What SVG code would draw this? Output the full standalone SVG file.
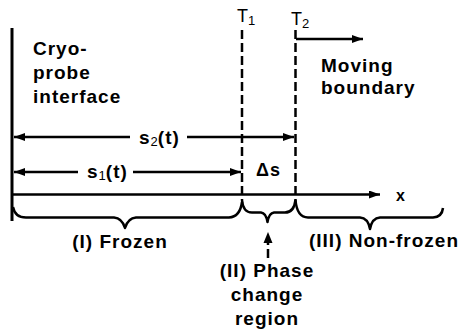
<svg xmlns="http://www.w3.org/2000/svg" width="460" height="335" viewBox="0 0 460 335">
<style>
.t{font-family:"Liberation Sans",Arial,sans-serif;font-weight:bold;font-size:19px;letter-spacing:1px;fill:#000}
.r{font-family:"Liberation Sans",Arial,sans-serif;font-size:18px;fill:#000}
.sub{font-family:"Liberation Sans",Arial,sans-serif;font-weight:normal;font-size:13px;letter-spacing:0}
.ln{stroke:#000;stroke-width:2.5;fill:none}
.dash{stroke:#000;stroke-width:2.5;fill:none;stroke-dasharray:9 4}
.br{stroke:#000;stroke-width:2.5;fill:none;stroke-linejoin:round}
</style>
<defs>
<marker id="ah" markerUnits="userSpaceOnUse" markerWidth="12" markerHeight="8" refX="11" refY="4" orient="auto-start-reverse">
<path d="M0,0 L11,4 L0,8 z" fill="#000"/>
</marker>
</defs>
<rect width="460" height="335" fill="#fff"/>
<g id="interface">
<line x1="12" y1="28" x2="12" y2="221" stroke="#000" stroke-width="3"/>
<text class="t" x="33" y="55">Cryo-</text>
<text class="t" x="33" y="79">probe</text>
<text class="t" x="33" y="103">interface</text>
</g>
<g id="T1">
<line class="dash" x1="242" y1="30" x2="242" y2="200"/>
<text class="r" x="237" y="22">T<tspan class="sub" dy="3">1</tspan></text>
</g>
<g id="T2">
<line class="dash" x1="295.5" y1="30" x2="295.5" y2="200"/>
<text class="r" x="291" y="25">T<tspan class="sub" dy="3">2</tspan></text>
</g>
<g id="moving">
<text class="t" x="321" y="72">Moving</text>
<text class="t" x="321" y="94">boundary</text>
</g>
<g id="labels">
<text class="t" x="139" y="144">s<tspan class="sub" dy="2">2</tspan><tspan dy="-2">(t)</tspan></text>
<text class="t" x="87" y="178">s<tspan class="sub" dy="2">1</tspan><tspan dy="-2">(t)</tspan></text>
<text class="t" x="256" y="176" style="font-size:18px">Δs</text>
<text class="t" x="396" y="201" style="font-size:16px">x</text>
</g>
<g id="frozen">
<text class="t" x="120" y="248" text-anchor="middle">(I) Frozen</text>
</g>
<g id="phase">
<text class="t" x="267" y="277" text-anchor="middle">(II) Phase</text>
<text class="t" x="267" y="301" text-anchor="middle">change</text>
<text class="t" x="267" y="325" text-anchor="middle">region</text>
</g>
<g id="nonfrozen">
<text class="t" x="384" y="247" text-anchor="middle">(III) Non-frozen</text>
</g>
<g id="connectors">
<line class="ln" x1="296" y1="39" x2="363" y2="39" marker-end="url(#ah)"/>
<line class="ln" x1="14" y1="137" x2="130" y2="137" marker-start="url(#ah)"/>
<line class="ln" x1="187" y1="137" x2="294" y2="137" marker-end="url(#ah)"/>
<line class="ln" x1="14" y1="172" x2="78" y2="172" marker-start="url(#ah)"/>
<line class="ln" x1="133" y1="172" x2="241" y2="172" marker-end="url(#ah)"/>
<line class="ln" x1="12" y1="194.5" x2="380" y2="194.5" marker-end="url(#ah)"/>
<path class="br" d="M13,207 Q15,217.5 26,217.5 L114,217.5 Q122,218 125,228 Q128,218 136,217.5 L229,217.5 Q240,217 242,202"/>
<path class="br" d="M242,200 Q243,212.5 252,212.5 L261,212.5 Q266,213 267.5,222 Q269,213 274,212.5 L285,212.5 Q294,212.5 295.5,200"/>
<path class="br" d="M295.5,200 Q297,217.5 308,217.5 L360,217.5 Q368,218 370,229 Q372,218 380,217.5 L433,217.5 Q442,217 443,208"/>
<line class="dash" x1="268" y1="258" x2="268" y2="240" stroke-dasharray="7 4"/>
<path d="M268,232 L272.5,243 L263.5,243 z" fill="#000"/>
</g>
</svg>
